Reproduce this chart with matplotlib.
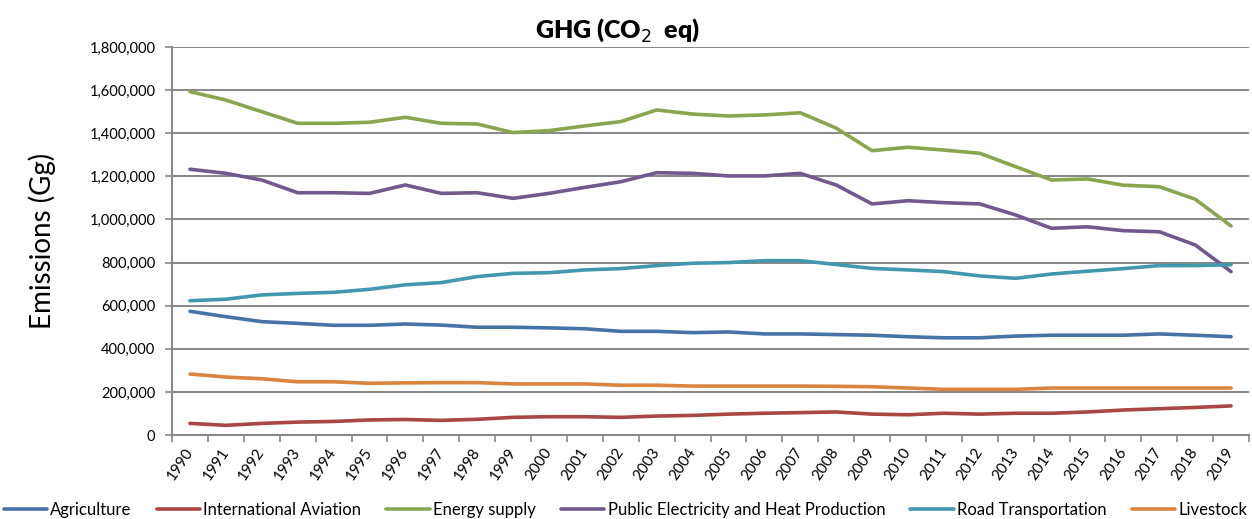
import matplotlib.pyplot as plt
from matplotlib.ticker import FuncFormatter

years = list(range(1990, 2020))

agriculture = [574000, 549000, 526000, 518000, 509000, 509000, 515000, 510000, 500000, 500000,
               497000, 493000, 481000, 481000, 475000, 478000, 469000, 469000, 466000, 463000,
               456000, 451000, 451000, 459000, 463000, 463000, 463000, 469000, 463000, 456000]
aviation = [54000, 45000, 54000, 60000, 63000, 70000, 72000, 68000, 73000, 82000,
            85000, 85000, 82000, 88000, 91000, 97000, 101000, 104000, 107000, 97000,
            94000, 101000, 97000, 101000, 101000, 107000, 116000, 122000, 128000, 135000]
energy = [1593000, 1554000, 1500000, 1446000, 1446000, 1451000, 1474000, 1446000, 1443000, 1403000,
          1412000, 1434000, 1454000, 1508000, 1489000, 1480000, 1485000, 1495000, 1424000, 1319000,
          1335000, 1322000, 1307000, 1245000, 1183000, 1188000, 1159000, 1152000, 1094000, 970000]
electricity = [1233000, 1214000, 1183000, 1124000, 1124000, 1121000, 1160000, 1121000, 1124000, 1098000,
               1121000, 1149000, 1175000, 1217000, 1214000, 1202000, 1202000, 1214000, 1160000, 1072000,
               1087000, 1078000, 1072000, 1021000, 959000, 966000, 948000, 943000, 882000, 758000]
road = [623000, 630000, 650000, 657000, 662000, 676000, 697000, 707000, 735000, 750000,
        753000, 766000, 772000, 786000, 797000, 800000, 809000, 809000, 791000, 773000,
        766000, 758000, 738000, 727000, 747000, 760000, 772000, 786000, 786000, 790000]
livestock = [283000, 269000, 261000, 247000, 247000, 240000, 242000, 243000, 243000, 237000,
             237000, 237000, 231000, 231000, 227000, 227000, 227000, 227000, 226000, 224000,
             218000, 212000, 212000, 212000, 218000, 218000, 218000, 218000, 218000, 218000]

series = [
    ("Agriculture", agriculture, "#4572A7"),
    ("International Aviation", aviation, "#AA4643"),
    ("Energy supply", energy, "#89A54E"),
    ("Public Electricity and Heat Production", electricity, "#71588F"),
    ("Road Transportation", road, "#4198AF"),
    ("Livestock", livestock, "#DB843D"),
]

plt.rcParams['font.family'] = ['Lato', 'DejaVu Sans']

dpi = 100
fig = plt.figure(figsize=(1252 / dpi, 519 / dpi), dpi=dpi)
ax = fig.add_axes([0.1374, 0.1618, 0.8602, 0.7476])

x = list(range(len(years)))
for name, vals, col in series:
    ax.plot(x, vals, color=col, lw=2.6, label=name, solid_capstyle='round')

ax.set_xlim(-0.5, len(years) - 0.5)
ax.set_ylim(0, 1800000)
ax.set_yticks(range(0, 1800001, 200000))
ax.yaxis.set_major_formatter(FuncFormatter(lambda v, p: f"{int(v):,}"))
ax.grid(axis='y', color='#868686', lw=1.4)
ax.set_axisbelow(True)

# category boundaries carry the tick marks, labels sit at the centres
ax.set_xticks([i - 0.5 for i in range(len(years) + 1)])
ax.set_xticklabels([])
ax.set_xticks(x, minor=True)
ax.set_xticklabels([str(y) for y in years], minor=True, rotation=56,
                   ha='right', va='center', rotation_mode='anchor', fontsize=11)
ax.tick_params(axis='x', which='major', length=5, color='#868686', width=1.2)
ax.tick_params(axis='x', which='minor', length=0, pad=10)
ax.tick_params(axis='y', length=5, color='#868686', width=1.2, labelsize=10.5, pad=7)

for s in ['top', 'right']:
    ax.spines[s].set_visible(False)
for s in ['left', 'bottom']:
    ax.spines[s].set_color('#868686')
    ax.spines[s].set_linewidth(1.4)

ax.set_ylabel("Emissions (Gg)", fontsize=20, labelpad=24)
fig.text(0.493, 0.942, r"GHG (CO$_2$  eq)", ha='center', va='center',
         fontsize=18, fontweight='heavy')

fig.legend(loc='center left', bbox_to_anchor=(0.003, 0.018), ncol=6, frameon=False,
           fontsize=12, handlelength=2.6, handletextpad=0.2, columnspacing=1.5,
           borderaxespad=0, borderpad=0)

fig.savefig("out.png", dpi=dpi)
